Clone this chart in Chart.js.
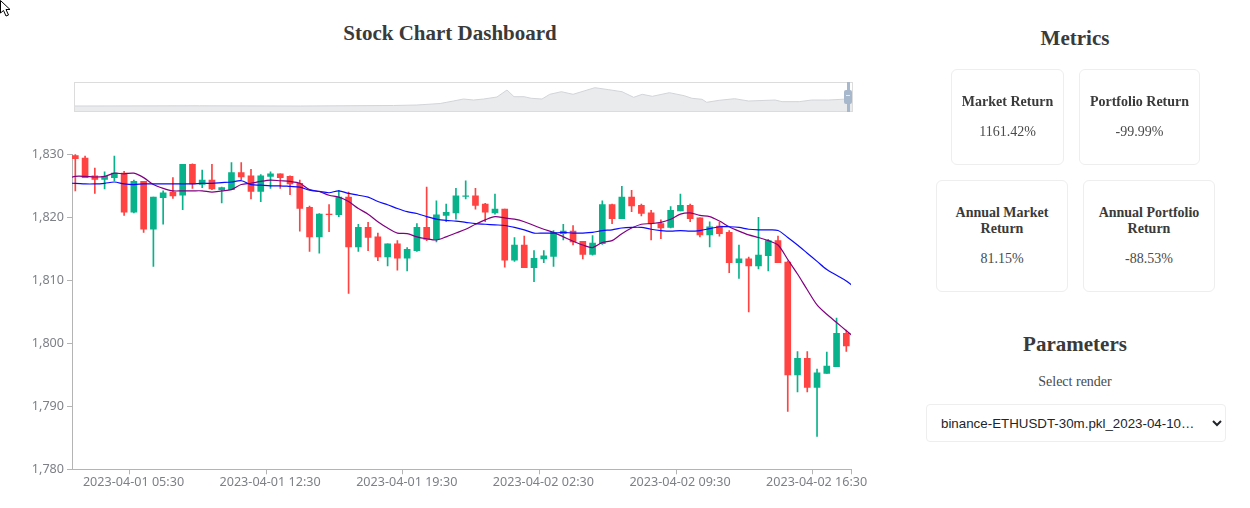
<!DOCTYPE html>
<html><head><meta charset="utf-8">
<style>
html,body{margin:0;padding:0;background:#fff;width:1250px;height:508px;overflow:hidden;font-family:"Liberation Serif",serif;color:#3a3a3a}
.abs{position:absolute}
.h{position:absolute;text-align:center;font-weight:bold}
.card{position:absolute;box-sizing:border-box;border:1px solid #eee;border-radius:6px;text-align:center;font-size:14px}
.card b,.card span{position:absolute;left:0;right:0;line-height:16px}
.card span{color:#4a4a4a}
select{position:absolute;left:926px;top:404px;width:300px;height:38px;box-sizing:border-box;border:1px solid #eee;border-radius:4px;background:#fff;font:13.33px "Liberation Sans",Arial,sans-serif;color:#212529;padding:0 10px}
</style></head><body>
<script src="https://cdn.jsdelivr.net/npm/chart.js@4/dist/chart.umd.min.js"></script>

<svg class="abs" style="left:0;top:0" width="14" height="20"><path d="M0.5 0.5 L0.5 13 L3.5 10.5 L6 16 L8.5 15 L6 9.5 L10 9.5 Z" fill="#fff" stroke="#000" stroke-width="1"/></svg>

<div class="h" style="left:250px;width:400px;top:21px;font-size:21px;line-height:24px">Stock Chart Dashboard</div>

<div class="abs" style="left:74px;top:82px;width:777px;height:28px;border:1px solid #dcdcdc"></div>
<canvas id="nav" class="abs" width="777" height="29" style="left:75px;top:82px"></canvas>
<div class="abs" style="left:847px;top:82px;width:3px;height:30px;background:#a7b7cc"></div>
<div class="abs" style="left:844px;top:90px;width:8px;height:14px;background:#a7b7cc;border-radius:2px"></div>
<div class="abs" style="left:846px;top:95px;width:4px;height:1px;background:#e6ebf2"></div>
<canvas id="main" class="abs" width="900" height="370" style="left:0;top:130px"></canvas>

<div class="h" style="left:925px;width:300px;top:25px;font-size:21px;line-height:26px">Metrics</div>
<div class="card" style="left:951px;top:69px;width:113px;height:96px"><b style="top:24px">Market Return</b><span style="top:54px">1161.42%</span></div>
<div class="card" style="left:1079px;top:69px;width:121px;height:96px"><b style="top:24px">Portfolio Return</b><span style="top:54px">-99.99%</span></div>
<div class="card" style="left:936px;top:180px;width:132px;height:112px"><b style="top:24px">Annual Market<br>Return</b><span style="top:70px">81.15%</span></div>
<div class="card" style="left:1083px;top:180px;width:132px;height:112px"><b style="top:24px">Annual Portfolio<br>Return</b><span style="top:70px">-88.53%</span></div>
<div class="h" style="left:925px;width:300px;top:331px;font-size:21px;line-height:26px">Parameters</div>
<div class="abs" style="left:925px;width:300px;top:374px;text-align:center;font-size:14px;line-height:16px;color:#4a4a4a">Select render</div>
<select><option>binance-ETHUSDT-30m.pkl_2023-04-10…</option></select>

<script>
const opens=[1829.8,1829.4,1826.6,1826.0,1826.3,1827.0,1820.8,1825.7,1818.1,1823.1,
1824.0,1823.5,1828.4,1825.2,1825.9,1824.4,1824.4,1827.1,1826.6,1824.1,
1826.5,1826.9,1826.5,1825.4,1821.6,1816.9,1820.5,1820.4,1823.2,1815.3,
1818.4,1816.9,1813.7,1815.8,1813.5,1814.7,1818.4,1816.5,1820.3,1820.7,
1823.3,1823.4,1822.1,1820.7,1821.3,1813.2,1815.6,1812.0,1813.4,1813.8,
1817.4,1817.8,1816.2,1814.1,1815.8,1822.0,1819.8,1823.2,1821.9,1820.7,
1819.0,1818.4,1821.0,1821.9,1819.9,1817.2,1818.6,1817.6,1812.8,1813.4,
1812.3,1813.9,1816.3,1812.9,1795.0,1797.6,1793.0,1795.2,1796.3,1801.6];
const closes=[1829.3,1826.3,1826.0,1826.5,1827.0,1820.8,1825.7,1818.1,1823.2,1823.9,
1823.4,1828.4,1825.3,1825.9,1824.5,1824.7,1827.1,1826.4,1824.1,1826.6,
1826.9,1826.3,1825.3,1821.4,1816.9,1820.5,1820.4,1823.2,1815.3,1818.4,
1816.8,1813.7,1815.8,1813.5,1814.9,1818.4,1816.5,1820.4,1820.8,1823.4,
1823.4,1821.9,1820.8,1821.3,1813.2,1815.6,1812.0,1813.5,1813.9,1817.6,
1817.8,1816.1,1814.1,1815.9,1822.0,1819.8,1823.2,1821.8,1820.6,1819.0,
1818.3,1821.1,1821.9,1819.8,1817.2,1818.5,1817.4,1812.8,1813.4,1812.3,
1814.0,1816.3,1812.8,1795.0,1797.6,1793.0,1795.3,1796.4,1801.6,1799.6];
const highs=[1830,1829.7,1827.8,1827.2,1829.7,1827.3,1825.9,1825.7,1823.2,1824.2,
1826.3,1828.4,1828.5,1827.5,1828.4,1824.8,1828.7,1828.7,1827.6,1826.8,
1827.2,1826.9,1826.6,1825.9,1821.8,1820.6,1822.0,1824.3,1824.0,1818.9,
1819.2,1817.5,1815.8,1816.3,1815.2,1819.0,1824.8,1822.6,1822.1,1824.6,
1825.8,1824.6,1822.2,1823.7,1821.3,1816.8,1817.0,1814.7,1814.7,1817.9,
1818.9,1818.7,1816.2,1817.1,1822.6,1822.1,1824.9,1824.3,1822.1,1821.1,
1819.6,1821.7,1823.7,1822.1,1819.9,1819.3,1819.2,1817.9,1815.6,1813.7,
1820.0,1816.5,1817.0,1813.1,1798.7,1798.7,1795.9,1798.6,1804.0,1802.1];
const lows=[1824.2,1826.3,1823.8,1824.5,1825.8,1820.3,1820.7,1817.6,1812.2,1818.9,
1823.0,1821.2,1824.6,1824.7,1824.4,1822.3,1824.4,1825.9,1822.9,1822.5,
1824.6,1824.6,1823.6,1817.8,1814.6,1814.3,1817.7,1820.1,1807.9,1814.6,
1814.7,1813.1,1812.3,1811.6,1811.5,1814.6,1816.3,1816.1,1819.3,1819.7,
1822.9,1821.3,1819.3,1820.5,1812.1,1813.0,1812.0,1809.8,1812.8,1812.2,
1816.4,1815.6,1813.4,1814.0,1815.7,1819.0,1819.8,1820.9,1820.2,1816.4,
1816.6,1818.3,1821.0,1819.3,1816.9,1815.3,1817.0,1811.2,1810.3,1805.0,
1811.8,1811.5,1812.8,1789.2,1792.3,1792.3,1785.2,1795.2,1796.3,1798.7];
// moving averages: first value belongs to the candle before the window, last to the one after it
const maFast=[1826.1,1826.5,1826.5,1826.4,1826.5,1827.0,1826.9,1827.0,1826.3,1825.2,1824.6,
1824.2,1824.2,1824.2,1824.2,1824.0,1824.2,1824.4,1825.2,1825.4,1825.7,
1825.9,1825.8,1825.7,1825.4,1824.4,1824.1,1823.5,1823.2,1822.5,1821.4,
1820.5,1819.3,1818.3,1817.5,1817.4,1816.9,1816.6,1816.4,1816.9,1817.5,
1818.1,1818.9,1819.6,1820.1,1819.9,1819.7,1819.3,1818.7,1818.1,1817.6,
1816.9,1816.2,1815.6,1815.2,1816.0,1816.3,1817.4,1818.3,1818.9,1819.0,
1819.2,1819.7,1820.5,1820.7,1820.3,1820.1,1819.4,1818.5,1817.8,1817.2,
1816.8,1816.3,1815.6,1813.3,1811.0,1808.5,1806.1,1804.6,1803.3,1802.0,1800.7];
const maSlow=[1825.4,1825.4,1825.3,1825.3,1825.4,1825.6,1825.3,1825.2,1825.3,1825.3,1825.3,
1825.3,1825.3,1825.3,1825.4,1825.4,1825.5,1825.6,1825.8,1825.2,1825.1,
1825.0,1825.0,1824.9,1824.8,1824.3,1824.1,1823.9,1824.2,1823.8,1823.5,
1823.2,1822.5,1822.0,1821.4,1820.9,1820.6,1820.1,1819.7,1819.5,1819.4,
1819.2,1819.0,1818.9,1818.8,1818.7,1818.4,1818.0,1817.5,1817.5,1817.5,
1817.6,1817.5,1817.5,1817.6,1817.9,1818.0,1818.3,1818.4,1818.4,1818.1,
1817.9,1817.8,1817.9,1817.8,1817.9,1818.2,1818.5,1818.5,1818.4,1818.1,
1818.0,1818.0,1817.9,1816.8,1815.6,1814.3,1813.0,1811.7,1810.8,1809.9,1808.7];
const tickCandles=[6,20,34,48,62,76];
const tickLabels=["2023-04-01 05:30","2023-04-01 12:30","2023-04-01 19:30","2023-04-02 02:30","2023-04-02 09:30","2023-04-02 16:30"];
const yTicks=[1780,1790,1800,1810,1820,1830];
// overview series (whole history, position along the slider in percent)
const navPos=[0,16,29,41,44,47,48.7,50,51.3,52.6,54.3,55.6,56.5,57.8,58.7,60.1,61.1,62.6,64.1,66.9,68.7,70.4,71.9,73,74.3,76.5,78.4,79.4,80.7,81.3,82.9,84.9,86.7,90.1,91,93.2,94.8,97,99.4,100];
const navPrice=[825,858,825,908,990,1238,1650,1980,1815,1980,2310,3465,2360,2360,2100,1980,2755,3185,2755,3845,3515,3185,2260,2755,2425,3020,2525,2100,1930,1435,1765,2030,1650,1815,1540,1540,1815,1815,1980,1980];
const UP='#08b38b',DOWN='#ff4242';
const isUp=i=>closes[i]>=opens[i];
const colorOf=c=>isUp(c.dataIndex)?UP:DOWN;

new Chart(document.getElementById('main'),{
 data:{datasets:[
  {type:'line',label:'maSlow',order:0,data:maSlow.map((v,i)=>({x:i-1,y:v})),borderColor:'#0a0aff',borderWidth:1.2,pointRadius:0,tension:.3},
  {type:'line',label:'maFast',order:0,data:maFast.map((v,i)=>({x:i-1,y:v})),borderColor:'#800080',borderWidth:1.2,pointRadius:0,tension:.3},
  {type:'bar',label:'body',order:1,grouped:false,barThickness:6,data:opens.map((o,i)=>({x:i,y:[o,closes[i]]})),backgroundColor:colorOf,borderSkipped:false},
  {type:'bar',label:'wick',order:2,grouped:false,barThickness:1,data:highs.map((h,i)=>({x:i,y:[lows[i],h]})),backgroundColor:colorOf,borderSkipped:false}
 ]},
 options:{
  responsive:false,animation:false,events:[],
  layout:{padding:{left:0,right:49,top:24.3,bottom:.7}},
  plugins:{legend:{display:false},tooltip:{enabled:false}},
  scales:{
   x:{type:'linear',offset:false,min:-.34,max:79.48,grid:{display:true,offset:false,drawOnChartArea:false,tickLength:5,color:'#b4b4b4'},border:{color:'#b4b4b4'},
      afterFit:s=>{s.height=30},
      afterBuildTicks:s=>{s.ticks=tickCandles.map(c=>({value:c-.45})).concat([{value:79.48}])},
      ticks:{autoSkip:false,maxRotation:0,minRotation:0,padding:1,labelOffset:4,color:'#7d8087',font:{family:'"Noto Sans"',size:12.6},
        callback:(v,i)=>tickLabels[i]||''}},
   y:{min:1780,max:1830,grid:{display:true,drawOnChartArea:false,tickLength:5,color:'#b4b4b4'},border:{color:'#b4b4b4'},
      afterFit:s=>{s.width=72},
      afterBuildTicks:s=>{s.ticks=yTicks.map(v=>({value:v}))},
      ticks:{padding:3,color:'#7d8087',font:{family:'"Noto Sans"',size:12.6},callback:v=>v.toLocaleString('en-US')}}
  }
 }
});
new Chart(document.getElementById('nav'),{
 type:'line',
 data:{datasets:[{data:navPos.map((p,i)=>({x:p,y:navPrice[i]})),borderColor:'#d2d4d8',borderWidth:1,backgroundColor:'#eaebed',fill:'origin',pointRadius:0,tension:0}]},
 options:{responsive:false,animation:false,events:[],layout:{padding:0},
  plugins:{legend:{display:false},tooltip:{enabled:false}},
  scales:{x:{type:'linear',display:false,min:0,max:100},y:{display:false,min:0,max:4785}}}
});
</script>
</body></html>
